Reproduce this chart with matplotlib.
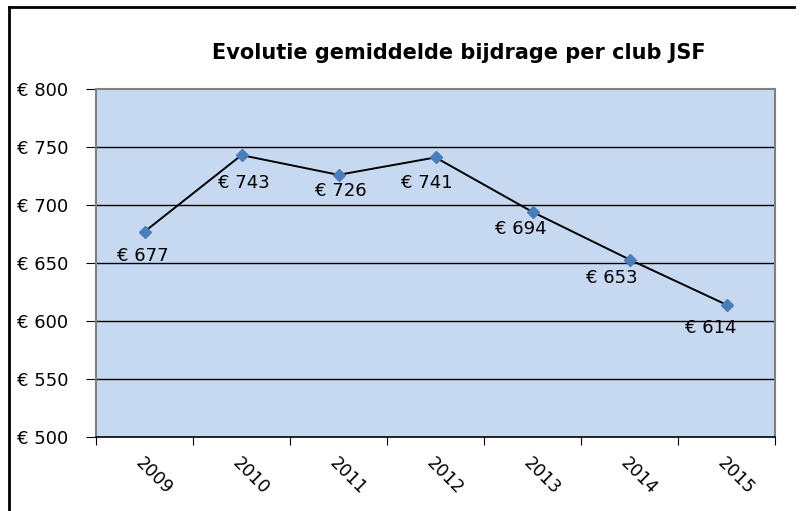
import matplotlib.pyplot as plt
from matplotlib.lines import Line2D

years = ['2009', '2010', '2011', '2012', '2013', '2014', '2015']
bijdrage = [677, 743, 726, 741, 694, 653, 614]
yticks = [500, 550, 600, 650, 700, 750, 800]

# label offsets in pixels (dx, dy) relative to each marker
offsets = [(-2, -24), (2, -28), (2, -16), (-9, -26), (-12, -17), (-18, -18), (-16, -23)]

plt.rcParams['font.family'] = ['DejaVu Sans']

fig = plt.figure(figsize=(8.03, 5.11), dpi=100)
W, H = 803, 511
ax = fig.add_axes([96 / W, 1 - 437 / H, (775 - 96) / W, (437 - 89) / H])
ax.set_facecolor('#C6D9F0')

x = [i + 0.5 for i in range(len(years))]
ax.plot(x, bijdrage, color='black', lw=1.4, zorder=3)
ax.plot(x, bijdrage, ls='none', marker='D', ms=6.5, color='#4A7EBB', zorder=4)

for xi, v, (dx, dy) in zip(x, bijdrage, offsets):
    ax.annotate('€ ' + str(v), (xi, v), xytext=(dx, dy), textcoords='offset pixels',
                ha='center', va='center', fontsize=13)

ax.set_xlim(0, len(years))
ax.set_ylim(500, 800)
ax.set_yticks(yticks)
ax.set_yticklabels(['€ ' + str(t) for t in yticks], fontsize=13)
for t in yticks[1:-1]:
    ax.axhline(t, color='black', lw=1, zorder=1)

ax.set_xticks(range(len(years) + 1))
ax.set_xticklabels([])
ax.set_xticks(x, minor=True)
ax.set_xticklabels(years, minor=True, rotation=-45, ha='left', va='top',
                   rotation_mode='anchor', fontsize=12.5)
ax.tick_params(axis='x', which='minor', length=0, pad=12)
ax.tick_params(axis='x', which='major', length=6, color='black')
ax.tick_params(axis='y', length=7, pad=13, color='black')

for s in ['top', 'right', 'left']:
    ax.spines[s].set_color('#808080')
    ax.spines[s].set_linewidth(1.5)
ax.spines['bottom'].set_color('black')
ax.spines['bottom'].set_linewidth(1.2)

fig.text(459 / W, 1 - 53 / H, 'Evolutie gemiddelde bijdrage per club JSF',
         ha='center', va='center', fontsize=15, fontweight='bold')

# outer frame (only left and top edges visible)
fig.add_artist(Line2D([9 / W, 9 / W], [0, 1 - 7.5 / H], transform=fig.transFigure,
                      color='black', lw=2))
fig.add_artist(Line2D([9 / W, 794 / W], [1 - 7.5 / H, 1 - 7.5 / H], transform=fig.transFigure,
                      color='black', lw=2))

fig.savefig('out.png', dpi=100)
